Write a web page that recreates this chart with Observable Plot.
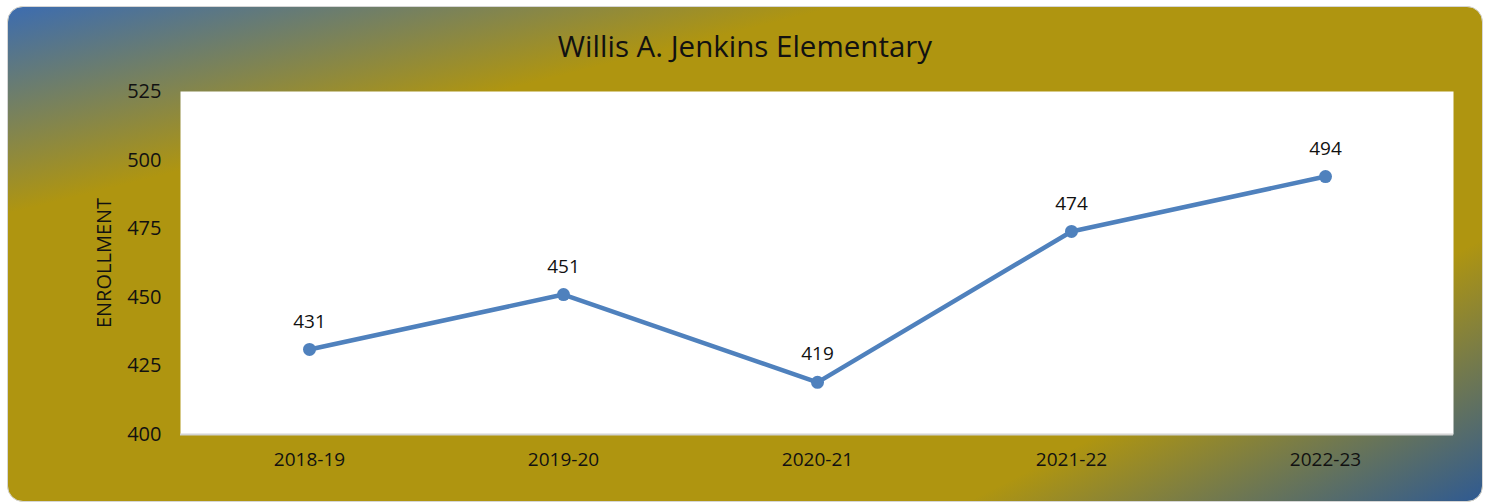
<!DOCTYPE html>
<html>
<head>
<meta charset="utf-8">
<script src="https://cdn.jsdelivr.net/npm/d3@7"></script>
<script src="https://cdn.jsdelivr.net/npm/@observablehq/plot@0.6"></script>
<style>
  html, body { margin: 0; padding: 0; background: #ffffff; }
  #wrap { position: relative; width: 1490px; height: 504px; overflow: hidden; }
  #card {
    position: absolute; left: 7px; top: 6px; width: 1474px; height: 494px;
    border: 1.5px solid #d6d6d6; border-radius: 16px;
    background:
      linear-gradient(166deg, rgba(60,108,176,1) 0%, rgba(60,108,176,0) 24%),
      linear-gradient(153deg, rgba(47,90,146,0) 79%, rgba(47,90,146,1) 100%),
      #af9510;
  }
  #title {
    position: absolute; left: 0; top: 26px; width: 1490px; text-align: center;
    font-family: "Open Sans", sans-serif; font-size: 29.5px; color: #111; line-height: 40px;
  }
  #chart { position: absolute; left: 0; top: 0; }
</style>
</head>
<body>
<div id="wrap">
  <div id="card"></div>
  <div id="title">Willis A. Jenkins Elementary</div>
  <div id="chart"></div>
</div>
<script>
const years = ["2018-19", "2019-20", "2020-21", "2021-22", "2022-23"];
const enrollment = [431, 451, 419, 474, 494];
const yTicks = [400, 425, 450, 475, 500, 525];
const yLabel = "ENROLLMENT";

const data = years.map((y, i) => ({year: y, value: enrollment[i]}));

const chart = Plot.plot({
  width: 1490,
  height: 504,
  marginLeft: 180,
  marginRight: 37,
  marginTop: 91,
  marginBottom: 70,
  style: {background: "transparent", fontFamily: "'Open Sans', sans-serif", fontSize: "19px", color: "#111"},
  x: {type: "point", domain: years, padding: 0.5, label: null},
  y: {domain: [400, 525], label: null},
  marks: [
    Plot.frame({fill: "white", stroke: null}),
    Plot.ruleY([400], {stroke: "#d4d4d4", strokeWidth: 2}),
    Plot.axisX({tickSize: 0, tickPadding: 18, label: null, fontSize: 19}),
    Plot.axisY({ticks: yTicks, tickSize: 0, tickPadding: 19, fontSize: 18.5,
      label: yLabel, labelAnchor: "center", labelArrow: "none", labelOffset: 84, fontSize: 20}),
    Plot.line(data, {x: "year", y: "value", stroke: "#4f81bd", strokeWidth: 4.5}),
    Plot.dot(data, {x: "year", y: "value", r: 6.5, fill: "#4f81bd", stroke: null}),
    Plot.text(data, {x: "year", y: "value", text: d => String(d.value), dy: -28, fontSize: 19, fill: "#111"})
  ]
});
document.getElementById("chart").appendChild(chart);
</script>
</body>
</html>
